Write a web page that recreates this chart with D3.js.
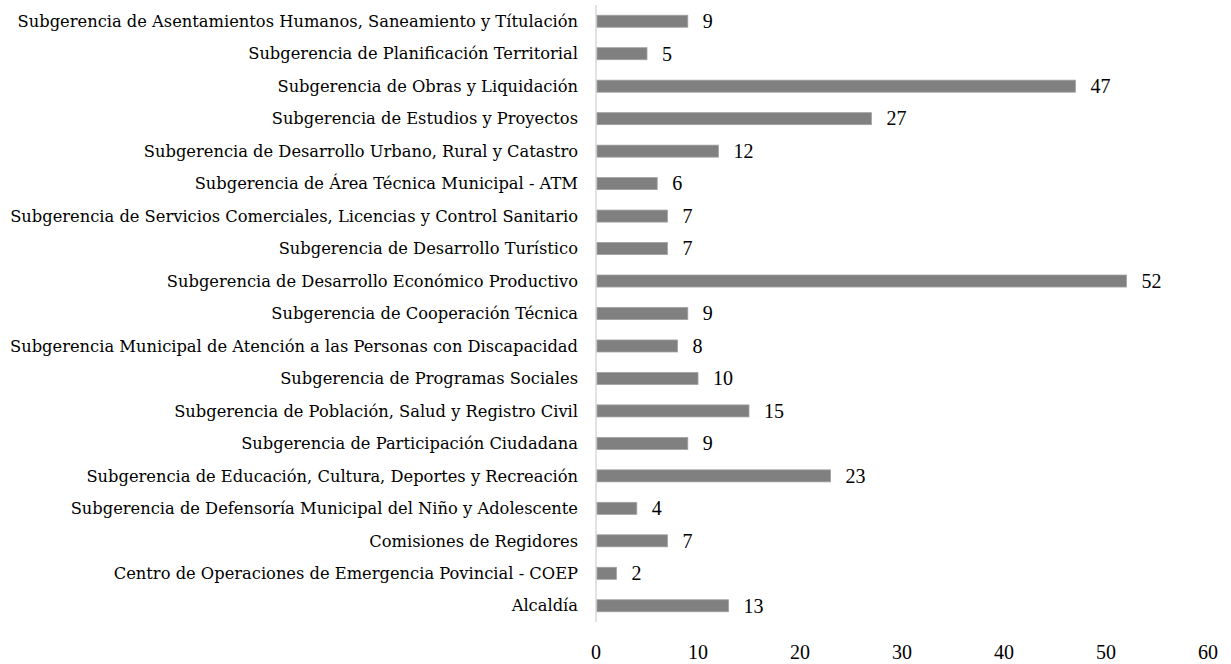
<!DOCTYPE html>
<html>
<head>
<meta charset="utf-8">
<script src="https://cdn.jsdelivr.net/npm/d3@7"></script>
<style>
  body { margin: 0; background: #fff; }
  text { fill: #000; }
  .cat { font-family: "DejaVu Serif", "Liberation Serif", serif; }
  .val, .tick { font-family: "Liberation Serif", "Times New Roman", serif; }
</style>
</head>
<body>
<div id="chart"></div>
<script>
// categories, top to bottom
const categories = [
  'Subgerencia de Asentamientos Humanos, Saneamiento y Títulación',
  'Subgerencia de Planificación Territorial',
  'Subgerencia de Obras y Liquidación',
  'Subgerencia de Estudios y Proyectos',
  'Subgerencia de Desarrollo Urbano, Rural y Catastro',
  'Subgerencia de Área Técnica Municipal - ATM',
  'Subgerencia de Servicios Comerciales, Licencias y Control Sanitario',
  'Subgerencia de Desarrollo Turístico',
  'Subgerencia de Desarrollo Económico Productivo',
  'Subgerencia de Cooperación Técnica',
  'Subgerencia Municipal de Atención a las Personas con Discapacidad',
  'Subgerencia de Programas Sociales',
  'Subgerencia de Población, Salud y Registro Civil',
  'Subgerencia de Participación Ciudadana',
  'Subgerencia de Educación, Cultura, Deportes y Recreación',
  'Subgerencia de Defensoría Municipal del Niño y Adolescente',
  'Comisiones de Regidores',
  'Centro de Operaciones de Emergencia Povincial - COEP',
  'Alcaldía'
];
const values = [9, 5, 47, 27, 12, 6, 7, 7, 52, 9, 8, 10, 15, 9, 23, 4, 7, 2, 13];
const xTicks = [0, 10, 20, 30, 40, 50, 60];

const width = 1231;
const height = 664;
const margin = { top: 5, right: 23, bottom: 42, left: 596 };

const svg = d3.select('#chart')
  .append('svg')
  .attr('width', width)
  .attr('height', height);

const x = d3.scaleLinear()
  .domain([0, 60])
  .range([margin.left, width - margin.right]);

const y = d3.scaleBand()
  .domain(categories)
  .range([margin.top, height - margin.bottom])
  .paddingInner(0.63)
  .paddingOuter(0.315);

// vertical axis line
svg.append('line')
  .attr('x1', x(0)).attr('x2', x(0))
  .attr('y1', margin.top).attr('y2', height - margin.bottom)
  .attr('stroke', '#d9d9d9')
  .attr('stroke-width', 1.5);

// bars
svg.selectAll('rect.bar')
  .data(values)
  .enter()
  .append('rect')
  .attr('class', 'bar')
  .attr('x', x(0) + 1)
  .attr('y', (d, i) => y(categories[i]))
  .attr('width', d => x(d) - x(0) - 1)
  .attr('height', y.bandwidth())
  .attr('fill', '#808080')
  .attr('stroke', '#a0a0a0')
  .attr('stroke-width', 0.8);

// value labels
svg.selectAll('text.val')
  .data(values)
  .enter()
  .append('text')
  .attr('class', 'val')
  .attr('x', d => x(d) + 15)
  .attr('y', (d, i) => y(categories[i]) + y.bandwidth() / 2)
  .attr('dy', '0.34em')
  .attr('font-size', 20)
  .text(d => d);

// category labels
svg.selectAll('text.cat')
  .data(categories)
  .enter()
  .append('text')
  .attr('class', 'cat')
  .attr('x', x(0) - 18)
  .attr('y', d => y(d) + y.bandwidth() / 2)
  .attr('dy', '0.35em')
  .attr('text-anchor', 'end')
  .attr('font-size', 16.3)
  .text(d => d);

// x tick labels
svg.selectAll('text.tick')
  .data(xTicks)
  .enter()
  .append('text')
  .attr('class', 'tick')
  .attr('x', d => x(d))
  .attr('y', 659)
  .attr('text-anchor', 'middle')
  .attr('font-size', 20)
  .text(d => d);
</script>
</body>
</html>
